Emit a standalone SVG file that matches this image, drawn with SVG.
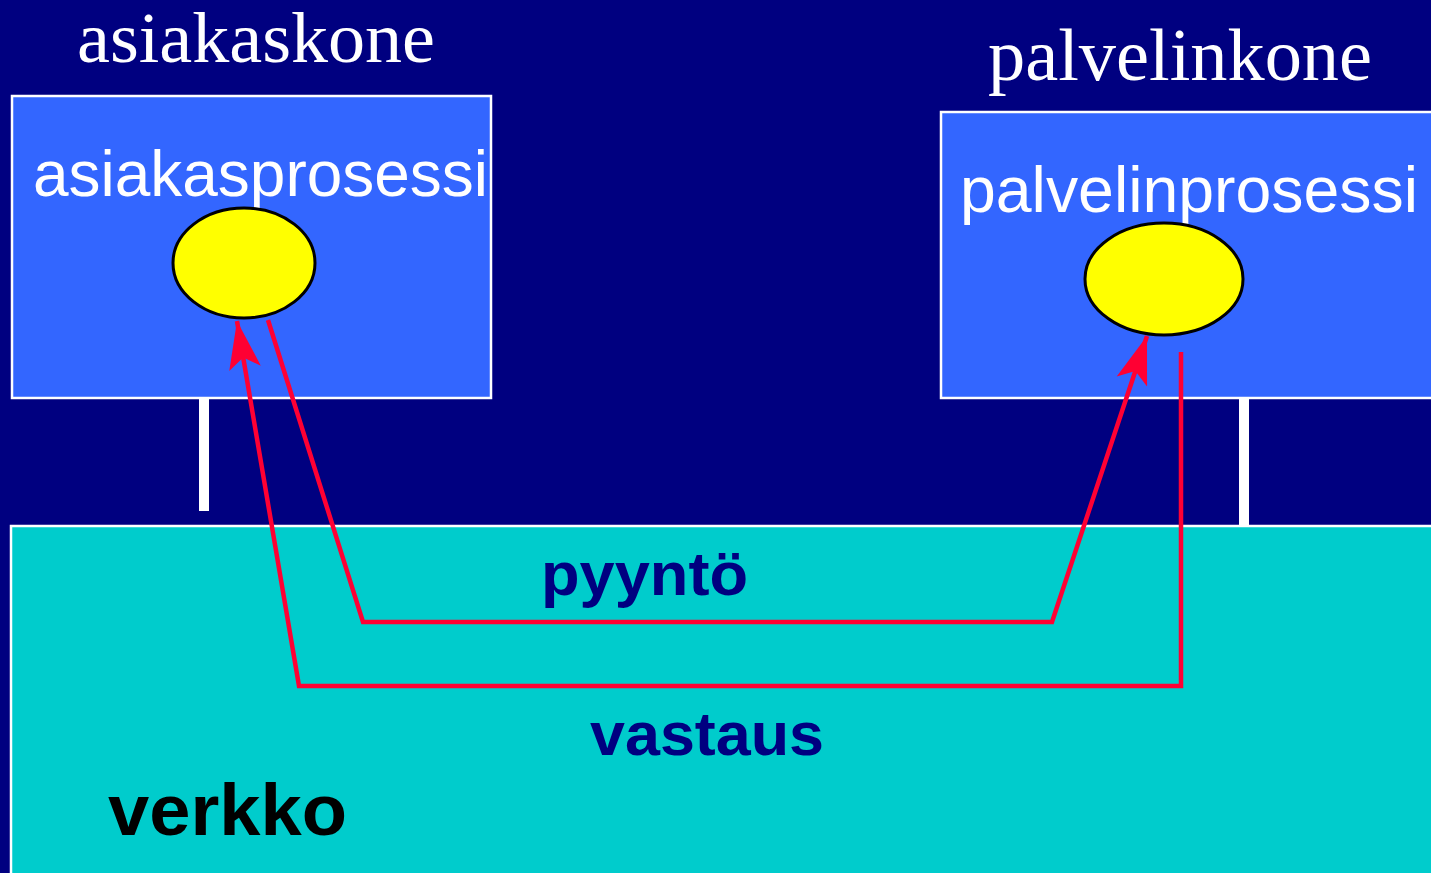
<svg xmlns="http://www.w3.org/2000/svg" width="1431" height="873" viewBox="0 0 1431 873">
<style>
.box{fill:#3366FF;stroke:#FFFFFF;stroke-width:2.5}
.net{fill:#00CCCC;stroke:#FFFFFF;stroke-width:2.5}
.post{fill:#FFFFFF}
.proc{fill:#FFFF00;stroke:#000000;stroke-width:3}
.wire{fill:none;stroke:#FF0033;stroke-width:4.5;stroke-linejoin:miter}
.ser{font-family:"Liberation Serif","Times New Roman",serif;fill:#FFFFFF}
.sans{font-family:"Liberation Sans",Arial,sans-serif}
</style>
<defs>
<marker id="arr" markerUnits="userSpaceOnUse" markerWidth="54" markerHeight="38" viewBox="-50 -19 54 38" refX="0" refY="0" orient="auto">
<path d="M0,0 L-48,-16 L-37,0 L-48,16 Z" fill="#FF0033"/>
</marker>
</defs>
<rect width="1431" height="873" fill="#000080"/>
<g id="network">
<rect class="net" x="11" y="526" width="1430" height="360"/>
<text class="sans" x="108" y="835" font-size="72" font-weight="bold" fill="#000000" textLength="239" lengthAdjust="spacingAndGlyphs">verkko</text>
</g>
<g id="client">
<rect class="post" x="199" y="398" width="10" height="113"/>
<rect class="box" x="12" y="96" width="479" height="302"/>
<text class="ser" x="77" y="62" font-size="72" textLength="358" lengthAdjust="spacingAndGlyphs">asiakaskone</text>
<text class="sans" x="33" y="196" font-size="64" fill="#FFFFFF" textLength="455" lengthAdjust="spacingAndGlyphs">asiakasprosessi</text>
</g>
<g id="client-process">
<ellipse class="proc" cx="244" cy="263" rx="71" ry="55"/>
</g>
<g id="server">
<rect class="post" x="1239" y="398" width="10" height="128"/>
<rect class="box" x="941" y="112" width="500" height="286"/>
<text class="ser" x="988" y="80" font-size="74" textLength="384" lengthAdjust="spacingAndGlyphs">palvelinkone</text>
<text class="sans" x="960" y="212" font-size="64" fill="#FFFFFF" textLength="458" lengthAdjust="spacingAndGlyphs">palvelinprosessi</text>
</g>
<g id="server-process">
<ellipse class="proc" cx="1164" cy="279" rx="79" ry="56"/>
</g>
<g id="connectors">
<polyline class="wire" points="268,320 363,622 1052,622 1147,336" marker-end="url(#arr)"/>
<polyline class="wire" points="1181,352 1181,686 299,686 237,321" marker-end="url(#arr)"/>
<text class="sans" x="541" y="595" font-size="62" font-weight="bold" fill="#000080" textLength="207" lengthAdjust="spacingAndGlyphs">pyyntö</text>
<text class="sans" x="590" y="755" font-size="62" font-weight="bold" fill="#000080" textLength="234" lengthAdjust="spacingAndGlyphs">vastaus</text>
</g>
</svg>
